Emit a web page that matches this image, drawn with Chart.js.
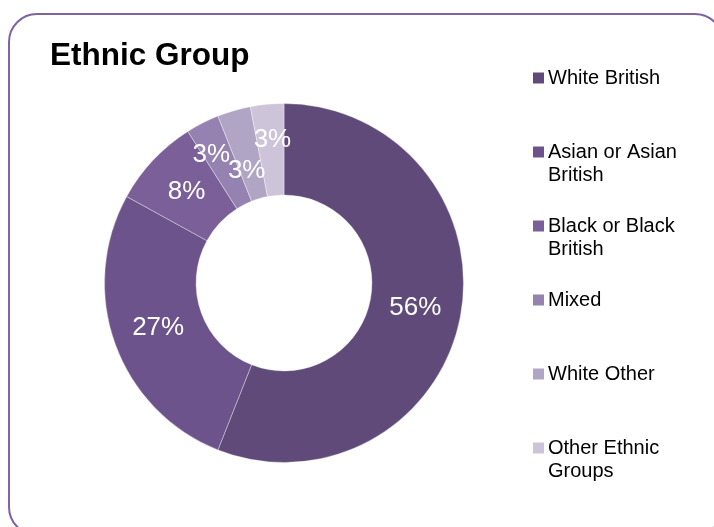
<!DOCTYPE html>
<html>
<head>
<meta charset="utf-8">
<script src="https://cdn.jsdelivr.net/npm/chart.js@4.4.0/dist/chart.umd.min.js"></script>
<style>
  html, body { margin: 0; padding: 0; background: #fff; }
</style>
</head>
<body>
<canvas id="myChart" width="714" height="527"></canvas>
<script>
const chartTitle = 'Ethnic Group';
const categories = ['White British', 'Asian or Asian British', 'Black or Black British', 'Mixed', 'White Other', 'Other Ethnic Groups'];
const shares = [56, 27, 8, 3, 3, 3];
const sliceColors = ['#5f4a79', '#6c538b', '#7b5f98', '#9682b0', '#b1a5c6', '#cdc4da'];

const FONT = '"Liberation Sans", Arial, sans-serif';

// rounded purple frame + bold title in the top-left
const frame = {
  id: 'frame',
  beforeDraw(chart) {
    const ctx = chart.ctx;
    ctx.save();
    ctx.strokeStyle = '#8064a2';
    ctx.lineWidth = 2;
    ctx.beginPath();
    ctx.roundRect(9, 14, 714, 521, 28);
    ctx.stroke();

    ctx.fillStyle = '#000';
    ctx.font = 'bold 31.5px ' + FONT;
    ctx.textBaseline = 'alphabetic';
    ctx.fillText(chartTitle, 50, 65);
    ctx.restore();
  }
};

// percentage labels sitting inside each slice
const sliceLabels = {
  id: 'sliceLabels',
  afterDatasetsDraw(chart, args, opts) {
    const ctx = chart.ctx;
    const meta = chart.getDatasetMeta(0);
    const values = chart.data.datasets[0].data;
    ctx.save();
    ctx.fillStyle = '#fff';
    ctx.font = '26px ' + FONT;
    ctx.textAlign = 'center';
    ctx.textBaseline = 'middle';
    meta.data.forEach((arc, i) => {
      const p = arc.tooltipPosition();
      const n = opts.nudge[i] || [0, 0];
      ctx.fillText(values[i] + '%', p.x + n[0], p.y + n[1]);
    });
    ctx.restore();
  }
};

// legend on the right: square marker, wrapped label, fixed row pitch
const sideLegend = {
  id: 'sideLegend',
  afterDraw(chart, args, opts) {
    const ctx = chart.ctx;
    const colors = chart.data.datasets[0].backgroundColor;
    ctx.save();
    ctx.font = opts.fontSize + 'px ' + FONT;
    ctx.textBaseline = 'middle';
    chart.data.labels.forEach((label, i) => {
      const y = opts.top + i * opts.pitch;
      ctx.fillStyle = colors[i];
      ctx.fillRect(opts.x, y - 5.5, 11, 11);

      // word wrap
      const lines = [];
      let line = '';
      label.split(' ').forEach(w => {
        const test = line ? line + ' ' + w : w;
        if (line && ctx.measureText(test).width > opts.maxWidth) {
          lines.push(line);
          line = w;
        } else {
          line = test;
        }
      });
      lines.push(line);

      ctx.fillStyle = '#000';
      lines.forEach((t, k) => ctx.fillText(t, opts.x + 15, y + k * opts.lineHeight));
    });
    ctx.restore();
  }
};

new Chart(document.getElementById('myChart'), {
  type: 'doughnut',
  data: {
    labels: categories,
    datasets: [{
      data: shares,
      backgroundColor: sliceColors,
      borderColor: 'rgba(255,255,255,0.35)',
      borderWidth: 1
    }]
  },
  options: {
    responsive: false,
    animation: false,
    events: [],
    cutout: '49%',
    layout: { padding: { left: 104, right: 250, top: 103, bottom: 64 } },
    plugins: {
      legend: { display: false },
      tooltip: { enabled: false },
      sliceLabels: { nudge: [[0, 0], [0, 0], [0, 0], [-12, -9], [0, 16], [1, -10]] },
      sideLegend: { x: 533, top: 78, pitch: 74, lineHeight: 23, fontSize: 20, maxWidth: 145 }
    }
  },
  plugins: [frame, sliceLabels, sideLegend]
});
</script>
</body>
</html>
